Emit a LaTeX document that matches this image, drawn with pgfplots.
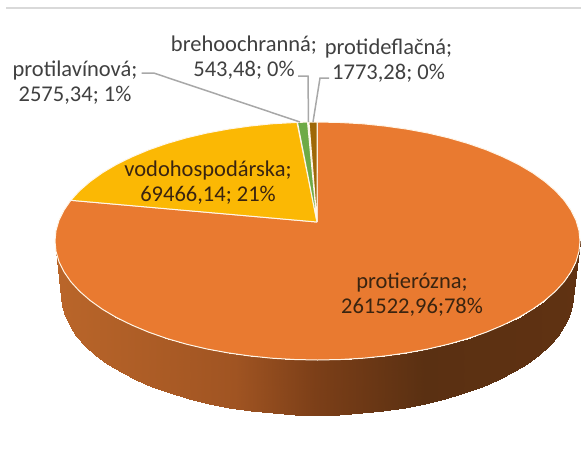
\documentclass[border=0pt]{standalone}
\usepackage{fontspec}
\setmainfont{Carlito}
\usepackage{pgfplots}
\pgfplotsset{compat=1.18}
\usepgfplotslibrary{patchplots}
\definecolor{cOrange}{RGB}{233,122,48}
\definecolor{cYellow}{RGB}{251,184,4}
\definecolor{cGreen}{RGB}{110,170,70}
\definecolor{cBrown}{RGB}{158,104,8}
\definecolor{cEdge}{RGB}{255,246,232}
\definecolor{cLead}{RGB}{168,168,168}
\definecolor{cText}{RGB}{64,64,64}
\definecolor{cIn}{RGB}{58,36,16}
\tikzset{lab/.style={font=\fontsize{22.5}{25}\selectfont,align=center,text=cText,inner sep=0pt}}
\begin{document}
\begin{tikzpicture}[x=1pt,y=1pt]
\useasboundingbox (0,0) rectangle (581,459);
\begin{axis}[
  at={(0pt,0pt)},anchor=south west,
  width=581pt,height=459pt,scale only axis,
  xmin=0,xmax=581,ymin=0,ymax=459,y dir=reverse,
  hide axis,clip=false,
  colormap={wall}{rgb255(0cm)=(186,102,42); rgb255(18cm)=(160,84,34); rgb255(26cm)=(124,63,24); rgb255(37cm)=(90,48,18); rgb255(52.5cm)=(96,50,18)},
  point meta min=55,point meta max=580,
]
% top rule
\addplot[color=black!15,line width=2pt] coordinates {(6,7.5) (581,7.5)};
% side wall of the pie
\addplot[surf,shader=interp,mesh/cols=37,point meta=explicit] coordinates {
(580.0,241.0)[580.0] (579.0,251.4)[579.0] (576.0,261.7)[576.0] (571.0,271.8)[571.0] (564.2,281.7)[564.2] (555.4,291.3)[555.4] (544.8,300.5)[544.8] (532.5,309.3)[532.5] (518.6,317.5)[518.6] (503.1,325.1)[503.1] (486.2,332.2)[486.2] (468.1,338.5)[468.1] (448.8,344.1)[448.8] (428.4,348.9)[428.4] (407.3,352.8)[407.3] (385.4,355.9)[385.4] (363.1,358.2)[363.1] (340.4,359.5)[340.4] (317.5,360.0)[317.5] (294.6,359.5)[294.6] (271.9,358.2)[271.9] (249.6,355.9)[249.6] (227.7,352.8)[227.7] (206.6,348.9)[206.6] (186.2,344.1)[186.2] (166.9,338.5)[166.9] (148.8,332.2)[148.8] (131.9,325.1)[131.9] (116.4,317.5)[116.4] (102.5,309.3)[102.5] (90.2,300.5)[90.2] (79.6,291.3)[79.6] (70.8,281.7)[70.8] (64.0,271.8)[64.0] (59.0,261.7)[59.0] (56.0,251.4)[56.0] (55.0,241.0)[55.0]

(573,295)[573] (572,305.5)[572] (569.1,315.8)[569.1] (564.3,326.1)[564.3] (557.6,336)[557.6] (549,345.7)[549] (538.7,355)[538.7] (526.7,363.8)[526.7] (513.1,372.1)[513.1] (498,379.9)[498] (481.6,386.9)[481.6] (463.8,393.3)[463.8] (445,398.9)[445] (425.2,403.8)[425.2] (404.6,407.8)[404.6] (383.3,410.9)[383.3] (361.5,413.2)[361.5] (339.3,414.5)[339.3] (317,415)[317] (294.7,414.5)[294.7] (272.5,413.2)[272.5] (250.7,410.9)[250.7] (229.4,407.8)[229.4] (208.8,403.8)[208.8] (189,398.9)[189] (170.2,393.3)[170.2] (152.4,386.9)[152.4] (136,379.9)[136] (120.9,372.1)[120.9] (107.3,363.8)[107.3] (95.3,355)[95.3] (85,345.7)[85] (76.4,336)[76.4] (69.7,326.1)[69.7] (64.9,315.8)[64.9] (62,305.5)[62] (61,295)[61]
};
% protierozna 261522,96 (78%)
\addplot[fill=cOrange,draw=cEdge,line width=1pt] coordinates {
(317,222) (317.5,122) (340.4,122.5) (363.1,123.8) (385.4,126.1) (407.3,129.2) (428.4,133.1) (448.8,137.9) (468.1,143.5) (486.2,149.8) (503.1,156.9) (518.6,164.5) (532.5,172.7) (544.8,181.5) (555.4,190.7) (564.2,200.3) (571.0,210.2) (576.0,220.3) (579.0,230.6)
(580.0,241.0) (579.0,251.4) (576.0,261.7) (571.0,271.8) (564.2,281.7) (555.4,291.3) (544.8,300.5) (532.5,309.3) (518.6,317.5) (503.1,325.1) (486.2,332.2) (468.1,338.5) (448.8,344.1) (428.4,348.9) (407.3,352.8) (385.4,355.9) (363.1,358.2) (340.4,359.5) (317.5,360.0) (294.6,359.5) (271.9,358.2) (249.6,355.9) (227.7,352.8) (206.6,348.9) (186.2,344.1) (166.9,338.5) (148.8,332.2) (131.9,325.1) (116.4,317.5) (102.5,309.3) (90.2,300.5) (79.6,291.3) (70.8,281.7) (64.0,271.8) (59.0,261.7) (56.0,251.4) (55.0,241.0) (56.0,230.6) (59.0,220.3) (64.0,210.2) (70.8,200.3)
(317,222)};
% vodohospodarska 69466,14 (21%)
\addplot[fill=cYellow,draw=cEdge,line width=1pt] coordinates {
(317,222) (70.8,200.3) (79.6,190.7) (90.2,181.5) (102.5,172.7) (116.4,164.5) (131.9,156.9) (148.8,149.8) (166.9,143.5) (186.2,137.9) (206.6,133.1) (227.7,129.2) (249.6,126.1) (271.9,123.8) (297,122.4) (317,222)};
% protilavinova 2575,34 (1%)
\addplot[fill=cGreen,draw=cEdge,line width=1pt] coordinates {(317,222) (297.5,122.4) (307.5,122.1) (317,222)};
% protideflacna 1773,28 (0%) and brehoochranna 543,48 (0%)
\addplot[fill=cBrown,draw=cEdge,line width=1pt] coordinates {(317,222) (309,122) (317,122) (317,222)};
% leader lines
\addplot[color=cLead,line width=1.5pt] coordinates {(141.5,73) (153.7,73) (300,122)};
\addplot[color=cLead,line width=1.5pt] coordinates {(298,76) (308,76) (308.5,122)};
\addplot[color=cLead,line width=1.5pt] coordinates {(329,78) (320,78) (313,122)};
% labels
\node[lab] at (axis cs:244,57.5) {brehoochranná;\\543,48; 0\%};
\node[lab] at (axis cs:388.5,60.5) {protideflačná;\\1773,28; 0\%};
\node[lab] at (axis cs:75,83) {protilavínová;\\2575,34; 1\%};
\node[lab,text=cIn] at (axis cs:208,182.5) {vodohospodárska;\\69466,14; 21\%};
\node[lab,text=cIn] at (axis cs:412,294.5) {protierózna;\\261522,96;78\%};
\end{axis}
\end{tikzpicture}
\end{document}
